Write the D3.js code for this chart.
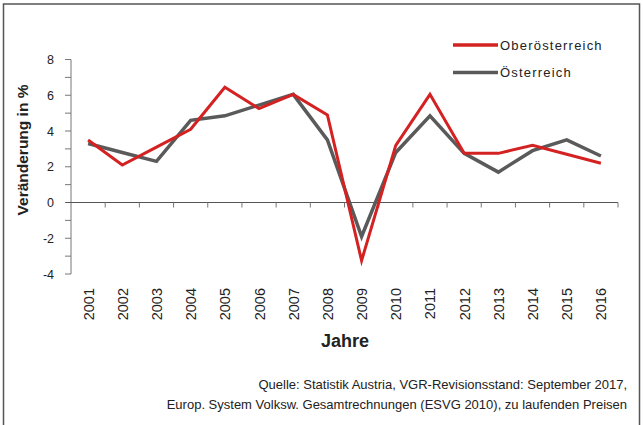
<!DOCTYPE html>
<html>
<head>
<meta charset="utf-8">
<script src="https://cdn.jsdelivr.net/npm/d3@7"></script>
<style>
  body { margin: 0; background: #fff; }
  text { font-family: "Liberation Sans", Arial, sans-serif; }
</style>
</head>
<body>
<div id="chart"></div>
<script>
// data
var years = ["2001","2002","2003","2004","2005","2006","2007","2008","2009","2010","2011","2012","2013","2014","2015","2016"];
var ooe = [3.5, 2.1, 3.1, 4.1, 6.45, 5.25, 6.05, 4.9, -3.25, 3.2, 6.05, 2.75, 2.75, 3.2, 2.7, 2.2];
var oest = [3.3, 2.8, 2.3, 4.6, 4.85, 5.45, 6.05, 3.5, -1.9, 2.8, 4.85, 2.75, 1.7, 2.9, 3.5, 2.6];
var yTicks = [-4, -2, 0, 2, 4, 6, 8];
var seriesNames = ["Oberösterreich", "Österreich"];
var seriesColors = ["#d42222", "#5a5a5a"];

var width = 643, height = 425;

var svg = d3.select("#chart").append("svg")
    .attr("width", width)
    .attr("height", height);

// frame
svg.append("rect")
    .attr("x", 3.5).attr("y", 4)
    .attr("width", 636).attr("height", 440)
    .attr("fill", "none")
    .attr("stroke", "#555")
    .attr("stroke-width", 1.5);

var x = d3.scaleBand()
    .domain(years)
    .range([71, 618]);

var y = d3.scaleLinear()
    .domain([-4, 8])
    .range([274, 59.5]);

/****** y axis ******/
var gy = svg.append("g");
gy.append("line")
    .attr("x1", 71).attr("x2", 71)
    .attr("y1", y(8)).attr("y2", y(-4))
    .attr("stroke", "#777").attr("stroke-width", 1);
gy.selectAll(".tick")
    .data(d3.range(-4, 9))
    .enter().append("line")
    .attr("x1", 65).attr("x2", 71)
    .attr("y1", function(d) { return y(d); })
    .attr("y2", function(d) { return y(d); })
    .attr("stroke", "#777").attr("stroke-width", 1);
gy.selectAll("text")
    .data(yTicks)
    .enter().append("text")
    .attr("x", 54)
    .attr("y", function(d) { return y(d) + 4.5; })
    .attr("text-anchor", "end")
    .style("font-size", "12.5px")
    .style("fill", "#222")
    .text(function(d) { return d; });

/****** x axis (at zero) ******/
var gx = svg.append("g");
gx.append("line")
    .attr("x1", 66).attr("x2", 618)
    .attr("y1", y(0)).attr("y2", y(0))
    .attr("stroke", "#555").attr("stroke-width", 1.2);
gx.selectAll(".tick")
    .data(years.slice(1).concat(["end"]))
    .enter().append("line")
    .attr("x1", function(d, i) { return x.range()[0] + (i + 1) * x.step(); })
    .attr("x2", function(d, i) { return x.range()[0] + (i + 1) * x.step(); })
    .attr("y1", y(0)).attr("y2", y(0) + 5)
    .attr("stroke", "#777").attr("stroke-width", 1);
gx.selectAll("text")
    .data(years)
    .enter().append("text")
    .attr("transform", function(d) {
        return "translate(" + (x(d) + x.bandwidth() / 2 + 5.5) + ",288) rotate(-90)";
    })
    .attr("text-anchor", "end")
    .style("font-size", "14.5px")
    .style("fill", "#222")
    .text(function(d) { return d; });

/****** titles ******/
svg.append("text")
    .attr("transform", "translate(28,150) rotate(-90)")
    .attr("text-anchor", "middle")
    .style("font-size", "15.5px")
    .style("font-weight", "bold")
    .style("fill", "#222")
    .text("Veränderung in %");

svg.append("text")
    .attr("x", 345).attr("y", 347)
    .attr("text-anchor", "middle")
    .style("font-size", "18px")
    .style("font-weight", "bold")
    .style("fill", "#222")
    .text("Jahre");

/****** lines ******/
var line = d3.line()
    .x(function(d, i) { return x(years[i]) + x.bandwidth() / 2; })
    .y(function(d) { return y(d); });

svg.append("path")
    .datum(oest)
    .attr("d", line)
    .attr("fill", "none")
    .attr("stroke", seriesColors[1])
    .attr("stroke-width", 3.5)
    .attr("stroke-linejoin", "miter");

svg.append("path")
    .datum(ooe)
    .attr("d", line)
    .attr("fill", "none")
    .attr("stroke", seriesColors[0])
    .attr("stroke-width", 3)
    .attr("stroke-linejoin", "miter");

/****** legend ******/
var legend = svg.selectAll(".legend")
    .data(seriesNames)
    .enter().append("g")
    .attr("transform", function(d, i) { return "translate(453," + (45 + i * 27.5) + ")"; });
legend.append("line")
    .attr("x1", 0).attr("x2", 45)
    .attr("stroke", function(d, i) { return seriesColors[i]; })
    .attr("stroke-width", 3.5);
legend.append("text")
    .attr("x", 47).attr("y", 4.5)
    .style("font-size", "13px")
    .style("letter-spacing", "1.2px")
    .style("fill", "#222")
    .text(function(d) { return d; });

/****** source ******/
var source = ["Quelle: Statistik Austria, VGR-Revisionsstand: September 2017,",
              "Europ. System Volksw. Gesamtrechnungen (ESVG 2010), zu laufenden Preisen"];
svg.selectAll(".src")
    .data(source)
    .enter().append("text")
    .attr("x", 627)
    .attr("y", function(d, i) { return 389 + i * 19.5; })
    .attr("text-anchor", "end")
    .style("font-size", "13px")
    .style("fill", "#222")
    .text(function(d) { return d; });
</script>
</body>
</html>
